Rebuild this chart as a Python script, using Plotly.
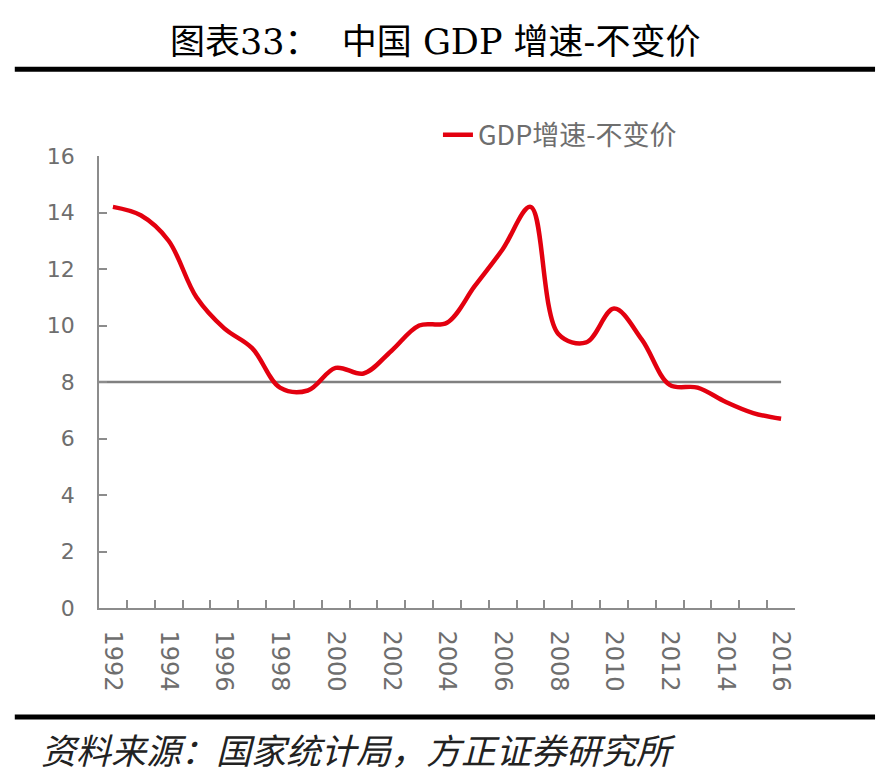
import plotly.graph_objects as go

years = [str(y) for y in range(1992, 2017)]
gdp_growth = [14.2, 13.9, 13.0, 11.0, 9.9, 9.2, 7.8, 7.7, 8.5, 8.3, 9.1, 10.0, 10.1,
              11.4, 12.7, 14.2, 9.7, 9.4, 10.6, 9.5, 7.9, 7.8, 7.3, 6.9, 6.7]
reference_level = 8
series_name = "GDP增速-不变价"
title_text = "图表33：  中国 GDP 增速-不变价"
source_text = "资料来源：国家统计局，方正证券研究所"
tick_text = [y if int(y) % 2 == 0 else "" for y in years]

fig = go.Figure()
fig.add_trace(go.Scatter(
    x=years, y=gdp_growth, mode="lines", name=series_name,
    line=dict(color="#e3000f", width=4.5, shape="spline", smoothing=1.0),
))

fig.add_shape(type="line", xref="x", yref="y", x0=-0.5, x1=len(years) - 1,
              y0=reference_level, y1=reference_level,
              line=dict(color="#808080", width=2.5), layer="below")

# decorative rules
fig.add_shape(type="line", xref="paper", yref="paper", x0=-0.121, x1=1.115,
              y0=1.192, y1=1.192, line=dict(color="black", width=5))
fig.add_shape(type="line", xref="paper", yref="paper", x0=-0.121, x1=1.115,
              y0=-0.241, y1=-0.241, line=dict(color="black", width=5))

fig.add_annotation(text=title_text, xref="paper", yref="paper", x=0.483, y=1.252,
                   showarrow=False, xanchor="center", yanchor="middle",
                   font=dict(family="DejaVu Serif, Noto Sans CJK SC", size=35, color="black"))
fig.add_annotation(text="<i>" + source_text + "</i>", xref="paper", yref="paper",
                   x=-0.086, y=-0.31, showarrow=False, xanchor="left", yanchor="middle",
                   font=dict(family="Noto Sans CJK SC", size=35, color="#222222"))

axis_color = "#8c8c8c"
fig.update_xaxes(
    type="category", tickson="boundaries", ticks="inside", ticklen=8,
    tickcolor=axis_color, tickwidth=1.5,
    tickvals=years, ticktext=tick_text, tickangle=90,
    showline=True, linecolor=axis_color, linewidth=1.5, showgrid=False,
    tickfont=dict(family="DejaVu Sans, Noto Sans", size=24, color="#6e6e6e"),
    range=[-0.5, len(years) - 0.5], ticklabelstandoff=16,
)
fig.update_yaxes(
    range=[0, 16], dtick=2, ticks="inside", ticklen=8, tickcolor=axis_color,
    tickwidth=1.5, showline=True, linecolor=axis_color, linewidth=1.5,
    showgrid=False, zeroline=False,
    tickfont=dict(family="DejaVu Sans, Noto Sans", size=22, color="#6e6e6e"),
    ticklabelstandoff=18,
)

fig.update_layout(
    width=890, height=782,
    margin=dict(l=91, r=103, t=148, b=182, autoexpand=False),
    paper_bgcolor="white", plot_bgcolor="white",
    showlegend=True,
    legend=dict(x=0.487, y=1.046, xanchor="left", yanchor="middle",
                bgcolor="rgba(0,0,0,0)",
                font=dict(family="Noto Sans CJK SC", size=27, color="#6e6e6e")),
)

fig.write_html("out.html")
